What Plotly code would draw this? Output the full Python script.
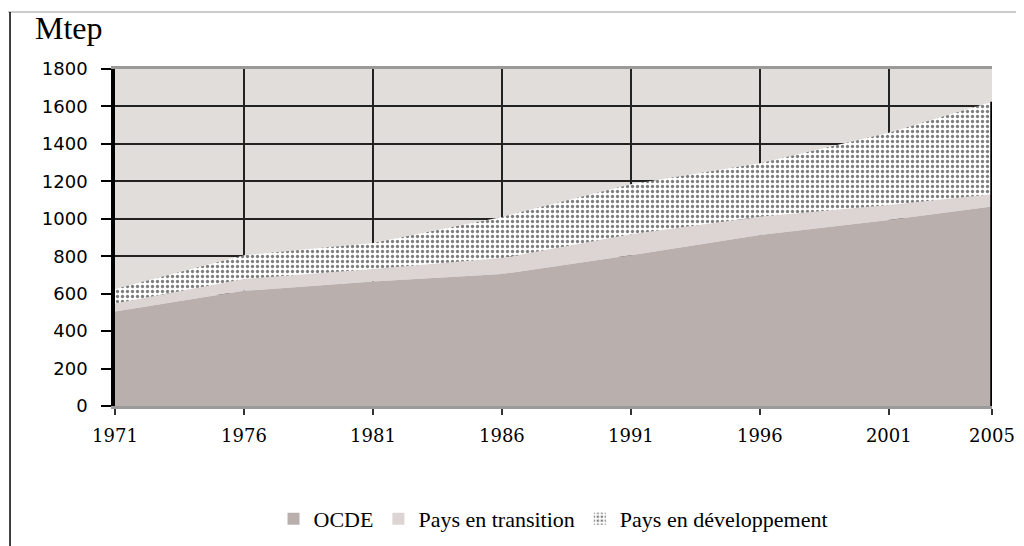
import plotly.graph_objects as go

# Consommation d'énergie (Mtep)
years = [1971, 1976, 1981, 1986, 1991, 1996, 2001, 2005]
ocde = [505, 615, 665, 705, 805, 913, 993, 1065]
transition = [43, 63, 67, 85, 112, 98, 81, 66]
developpement = [77, 127, 138, 220, 268, 285, 385, 494]

series = ["OCDE", "Pays en transition", "Pays en développement"]
colors = ["#B9B0AE", "#DCD5D3", "white"]

y_ticks = list(range(0, 1801, 200))

SERIF = "Liberation Serif"
dots = dict(shape=".", fgcolor="black", bgcolor="white", size=5, solidity=0.35)

fig = go.Figure()

for name, vals, col in zip(series, [ocde, transition, developpement], colors):
    fig.add_trace(go.Scatter(
        x=years, y=vals, name=name, stackgroup="one", mode="none",
        fillcolor=col, showlegend=False,
        fillpattern=dots if name == series[2] else None,
    ))

# thick closing line at the last year, up to the stacked total
total_last = ocde[-1] + transition[-1] + developpement[-1]
fig.add_trace(go.Scatter(
    x=[years[-1], years[-1]], y=[0, total_last], mode="lines",
    line=dict(color="black", width=3.5), showlegend=False, hoverinfo="skip",
))

# legend entries (square swatches)
for name, col in zip(series, colors):
    fig.add_trace(go.Bar(
        x=[None], y=[None], name=name,
        marker=dict(color=col, line=dict(width=0),
                    pattern=dots if name == series[2] else None),
    ))

fig.update_layout(
    width=1024, height=546,
    paper_bgcolor="white",
    plot_bgcolor="#E1DDDB",
    margin=dict(l=107, r=40, t=61, b=148),
    font=dict(family=SERIF, size=17, color="black"),
    showlegend=True,
    legend=dict(
        orientation="h", x=0.5, xanchor="center", y=-0.335, yanchor="middle",
        font=dict(family=SERIF, size=22, color="black"),
        traceorder="normal", bgcolor="rgba(0,0,0,0)",
    ),
    annotations=[dict(
        text="Mtep", xref="paper", yref="paper", x=-0.094, y=1.122,
        xanchor="left", yanchor="middle", showarrow=False,
        font=dict(family=SERIF, size=32, color="black"),
    )],
    shapes=[
        # picture frame: top rule and left border
        dict(type="line", xref="paper", yref="paper", x0=-0.13, x1=1.06,
             y0=1.169, y1=1.169, line=dict(color="#BBBBBB", width=1.5)),
        dict(type="line", xref="paper", yref="paper", x0=-0.1197, x1=-0.1197,
             y0=1.169, y1=-0.45, line=dict(color="black", width=1.5)),
    ],
)

fig.update_xaxes(
    range=[years[0], years[-1]], tickvals=years,
    showgrid=True, gridcolor="#222222", gridwidth=1.5,
    showline=True, linecolor="#9A9A9A", linewidth=2.5, mirror=True,
    ticks="outside", ticklen=6, tickcolor="#333333", tickwidth=1.5,
    tickfont=dict(family="DejaVu Serif", size=18, color="black"),
    ticklabelstandoff=6,
    zeroline=False, fixedrange=True,
)
fig.update_yaxes(
    range=[0, 1800], tickvals=y_ticks,
    showgrid=True, gridcolor="#222222", gridwidth=1.5,
    showline=True, linecolor="black", linewidth=3.5,
    ticks="outside", ticklen=10, tickcolor="black", tickwidth=1.5,
    tickfont=dict(family="DejaVu Sans", size=18, color="black"),
    ticklabelstandoff=10,
    zeroline=False, fixedrange=True,
)

fig.write_html("out.html")
